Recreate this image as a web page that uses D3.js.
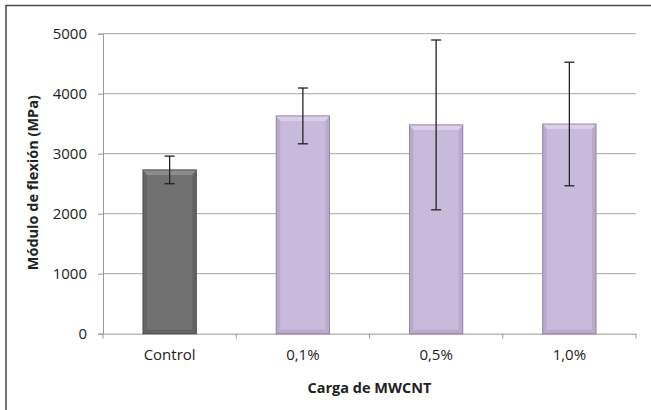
<!DOCTYPE html>
<html><head><meta charset="utf-8">
<script src="https://cdn.jsdelivr.net/npm/d3@7"></script>
<style>body{margin:0;background:#fff}svg{display:block}text{font-family:"Open Sans",Lato,sans-serif;fill:#222}</style>
</head><body><svg id="c" width="651" height="410"></svg>
<script>
const categories = ["Control", "0,1%", "0,5%", "1,0%"];
const values = [2730, 3630, 3480, 3495];
const errors = [230, 465, 1415, 1030];
const yTicks = [0, 1000, 2000, 3000, 4000, 5000];
const yTitle = "Módulo de flexión (MPa)";
const xTitle = "Carga de MWCNT";

const svg = d3.select("#c");
const L = 103, R = 636, T = 33.7, B = 333.7;
const FONT = "'Open Sans', Lato, sans-serif";
const x = d3.scaleBand().domain(categories).range([L, R]).padding(0);
const y = d3.scaleLinear().domain([0, 5000]).range([B, T]);

// frame
svg.append("path").attr("d", `M6,410 V5.5 H651`).attr("fill","none").attr("stroke","#4a4a4a").attr("stroke-width",1.5);

// gridlines
svg.append("g").selectAll("line").data(yTicks.filter(d=>d>0)).join("line")
  .attr("x1", L).attr("x2", R).attr("y1", d=>y(d)).attr("y2", d=>y(d))
  .attr("stroke","#b8b8b8").attr("stroke-width",1.2);

// axes
const ya = svg.append("g").attr("transform",`translate(${L},0)`)
  .call(d3.axisLeft(y).tickValues(yTicks).tickSize(5).tickPadding(11).tickFormat(d3.format("d")));
ya.select(".domain").attr("stroke","#999");
ya.selectAll(".tick line").attr("stroke","#999");
ya.selectAll("text").attr("font-size",15).attr("font-family",FONT).attr("fill","#222");

const xa = svg.append("g").attr("transform",`translate(0,${B})`)
  .call(d3.axisBottom(x).tickSize(0).tickPadding(15.5));
xa.select(".domain").attr("stroke","#999");
xa.selectAll("text").attr("font-size",15).attr("font-family",FONT).attr("fill","#222");
// boundary ticks
svg.append("g").selectAll("line").data(d3.range(categories.length+1)).join("line")
  .attr("x1", i=>L + i*x.step()).attr("x2", i=>L + i*x.step())
  .attr("y1", B).attr("y2", B+5).attr("stroke","#999");

const pal = [
  {main:"#717171", top:"#8c8c8c", side:"#646464", edge:"#4e4e4e"},
  {main:"#c8badb", top:"#dbcfe8", side:"#b9a9cc", edge:"#9484a9"}
];
const bw = x.bandwidth()*0.4;
const bars = svg.append("g").selectAll("g").data(categories).join("g");
bars.each(function(c, i){
  const p = pal[i===0?0:1];
  const g = d3.select(this);
  const x0 = x(c) + (x.bandwidth()-bw)/2, x1 = x0 + bw;
  const y0 = y(values[i]), y1 = y(0);
  const b = 4;
  g.append("rect").attr("x",x0).attr("y",y0).attr("width",bw).attr("height",y1-y0).attr("fill",p.main);
  g.append("path").attr("d",`M${x0},${y0} L${x0+b},${y0+b} L${x0+b},${y1-b} L${x0},${y1}Z`).attr("fill",p.side);
  g.append("path").attr("d",`M${x1},${y0} L${x1-b},${y0+b} L${x1-b},${y1-b} L${x1},${y1}Z`).attr("fill",p.side);
  g.append("path").attr("d",`M${x0},${y1} L${x0+b},${y1-b} L${x1-b},${y1-b} L${x1},${y1}Z`).attr("fill",p.side);
  g.append("path").attr("d",`M${x0},${y0} L${x1},${y0} L${x1-b},${y0+b+1} L${x0+b},${y0+b+1}Z`).attr("fill",p.top);
  g.append("rect").attr("x",x0).attr("y",y0).attr("width",bw).attr("height",y1-y0).attr("fill","none").attr("stroke",p.edge).attr("stroke-width",1);
});

// error bars
const eb = svg.append("g").attr("stroke","#222").attr("stroke-width",1.3);
categories.forEach((c,i)=>{
  const cx = x(c) + x.bandwidth()/2;
  const hi = y(values[i]+errors[i]), lo = y(values[i]-errors[i]);
  eb.append("line").attr("x1",cx).attr("x2",cx).attr("y1",hi).attr("y2",lo);
  eb.append("line").attr("x1",cx-5).attr("x2",cx+5).attr("y1",hi).attr("y2",hi);
  eb.append("line").attr("x1",cx-5).attr("x2",cx+5).attr("y1",lo).attr("y2",lo);
});

// titles
svg.append("text").attr("transform",`translate(38,${(T+B)/2 - 1}) rotate(-90)`)
  .attr("text-anchor","middle").attr("font-size",14.5).attr("font-weight","bold").attr("font-family",FONT).text(yTitle);
svg.append("text").attr("x",(L+R)/2).attr("y",393).attr("text-anchor","middle")
  .attr("font-size",14.5).attr("font-weight","bold").attr("font-family",FONT).text(xTitle);
</script></body></html>
